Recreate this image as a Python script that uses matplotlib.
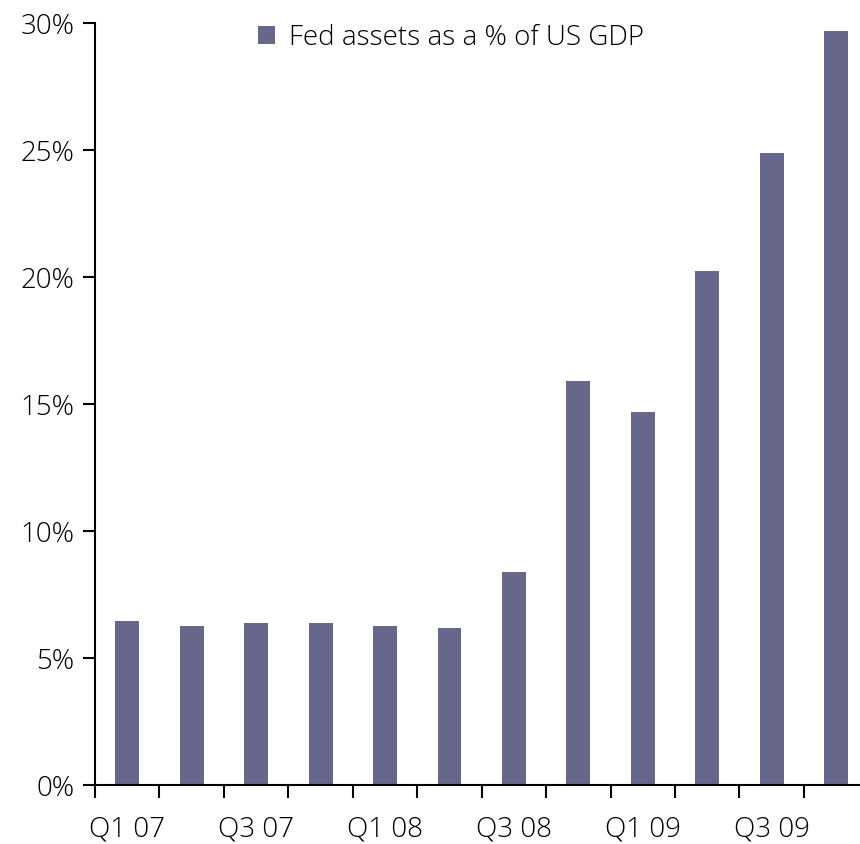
import numpy as np
import matplotlib.pyplot as plt

quarters = ['Q1 07', 'Q2 07', 'Q3 07', 'Q4 07', 'Q1 08', 'Q2 08',
            'Q3 08', 'Q4 08', 'Q1 09', 'Q2 09', 'Q3 09', 'Q4 09']
fed_pct = [6.45, 6.26, 6.36, 6.36, 6.28, 6.2, 8.38, 15.9, 14.68, 20.22, 24.88, 29.7]
y_ticks = [0, 5, 10, 15, 20, 25, 30]

plt.rcParams['font.family'] = ['Open Sans', 'DejaVu Sans']

fig = plt.figure(figsize=(8.6, 8.44), dpi=100)
ax = fig.add_axes([0.1105, 0.0699, 0.8895, 0.9028])

x = np.arange(len(quarters))
ax.bar(x, fed_pct, width=0.37, color='#67668b', label='Fed assets as a % of US GDP')

ax.set_xlim(-0.5, 11.37)
ax.set_ylim(0, 30)
ax.set_yticks(y_ticks)
ax.set_yticklabels([f'{v}%' for v in y_ticks], fontsize=20, fontweight='light')

ax.set_xticks(np.arange(len(quarters)) - 0.5)
ax.set_xticklabels([])
ax.set_xticks(x[::2], minor=True)
ax.set_xticklabels(quarters[::2], minor=True, fontsize=20, fontweight='light')
ax.tick_params(axis='x', which='minor', length=0, pad=22)
ax.tick_params(axis='x', which='major', length=9, width=1.5, direction='out')
ax.tick_params(axis='y', length=9, width=1.5, direction='out', pad=6)

for s in ['top', 'right']:
    ax.spines[s].set_visible(False)
ax.spines['left'].set_linewidth(1.5)
ax.spines['bottom'].set_linewidth(1.5)

ax.legend(loc='center left', bbox_to_anchor=(258 / 860, 1 - 38 / 844),
          bbox_transform=fig.transFigure, frameon=False,
          prop={'size': 20, 'weight': 'light'},
          handlelength=0.6, handleheight=0.6, handletextpad=0.5,
          borderpad=0, borderaxespad=0)

fig.savefig('out.png', dpi=100)
